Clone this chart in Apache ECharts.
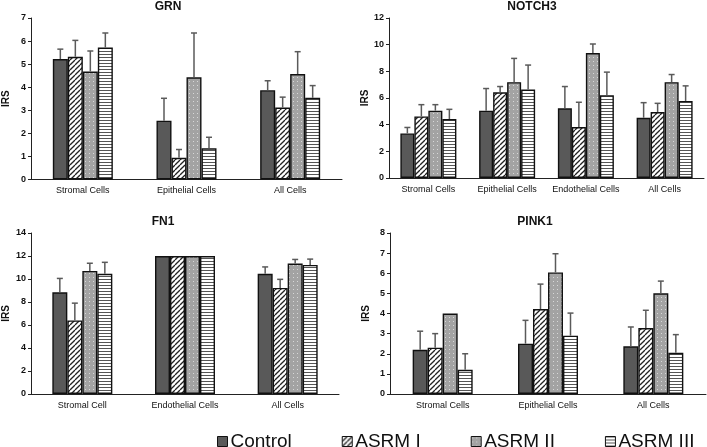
<!DOCTYPE html>
<html><head><meta charset="utf-8">
<script src="https://cdn.jsdelivr.net/npm/echarts@6/dist/echarts.min.js"></script>
<style>html,body{margin:0;padding:0;background:#fff}#c{width:707px;height:447px}</style>
</head><body><div id="c"></div>
<script>
// ---- data ----
const groups = ['Control', 'ASRM I', 'ASRM II', 'ASRM III'];

const grnCats = ['Stromal Cells', 'Epithelial Cells', 'All Cells'];
const grnMean = [[5.22, 2.55, 3.87], [5.32, 0.94, 3.12], [4.68, 4.43, 4.57], [5.72, 1.35, 3.54]];
const grnErr  = [[0.43, 0.97, 0.41], [0.71, 0.36, 0.45], [0.89, 1.92, 0.97], [0.63, 0.48, 0.53]];
const grnTicks = [0, 7, 1];

const notchCats = ['Stromal Cells', 'Epithelial Cells', 'Endothelial Cells', 'All Cells'];
const notchMean = [[3.34, 5.05, 5.23, 4.52], [4.62, 6.43, 3.82, 4.95], [5.05, 7.19, 9.37, 7.19], [4.42, 6.63, 6.21, 5.78]];
const notchErr  = [[0.45, 1.66, 1.63, 1.13], [0.88, 0.43, 1.86, 0.65], [0.45, 1.78, 0.68, 0.57], [0.73, 1.84, 1.73, 1.13]];
const notchTicks = [0, 12, 2];

const fn1Cats = ['Stromal Cell', 'Endothelial Cells', 'All Cells'];
const fn1Mean = [[8.84, 12, 10.45], [6.4, 12, 9.22], [10.7, 12, 11.35], [10.45, 12, 11.22]];
const fn1Err  = [[1.21, 0, 0.6], [1.5, 0, 0.75], [0.67, 0, 0.35], [1.0, 0, 0.51]];
const fn1Ticks = [0, 14, 2];

const pinkCats = ['Stromal Cells', 'Epithelial Cells', 'All Cells'];
const pinkMean = [[2.2, 2.5, 2.37], [2.3, 4.22, 3.28], [4.0, 6.04, 5.0], [1.2, 2.9, 2.05]];
const pinkErr  = [[0.92, 1.16, 0.96], [0.7, 1.24, 0.88], [0, 0.93, 0.61], [0.8, 1.12, 0.9]];
const pinkTicks = [0, 8, 1];

// ---- patterns ----
function tile(w, h, draw) {
  const c = document.createElement('canvas'); c.width = w; c.height = h;
  const g = c.getContext('2d'); draw(g, w, h); return c;
}
const diagTile = tile(5, 5, (g, w, h) => {
  g.fillStyle = '#fff'; g.fillRect(0, 0, w, h);
  g.strokeStyle = '#222'; g.lineWidth = 1.3;
  for (let k = -1; k <= 1; k++) { g.beginPath(); g.moveTo(k * w, h); g.lineTo(k * w + w, 0); g.stroke(); }
});
const dotTile = tile(4, 4, (g, w, h) => {
  g.fillStyle = '#a3a3a3'; g.fillRect(0, 0, w, h);
  g.fillStyle = '#d8d8d8'; g.fillRect(1, 1, 1, 1);
});
const horizTile = tile(2, 3, (g, w, h) => {
  g.fillStyle = '#fff'; g.fillRect(0, 0, w, h);
  g.fillStyle = '#555'; g.fillRect(0, 0, w, 1);
});
const fills = [
  '#595959',
  { image: diagTile, repeat: 'repeat' },
  { image: dotTile, repeat: 'repeat' },
  { image: horizTile, repeat: 'repeat' }
];

// ---- panels ----
const FONT = 'Liberation Sans, Arial, sans-serif';
const panels = [
  { title: 'GRN', tx: 168, ty: 7, cats: grnCats, mean: grnMean, err: grnErr, ticks: grnTicks, grid: { left: 28, top: 18, width: 314, height: 161.5 }, bw: 15, nameGap: 20 },
  { title: 'NOTCH3', tx: 532, ty: 7, cats: notchCats, mean: notchMean, err: notchErr, ticks: notchTicks, grid: { left: 389, top: 18, width: 315, height: 160 }, bw: 14, nameGap: 18 },
  { title: 'FN1', tx: 163, ty: 222, cats: fn1Cats, mean: fn1Mean, err: fn1Err, ticks: fn1Ticks, grid: { left: 28, top: 233, width: 311, height: 161 }, bw: 15, nameGap: 20 },
  { title: 'PINK1', tx: 535, ty: 222, cats: pinkCats, mean: pinkMean, err: pinkErr, ticks: pinkTicks, grid: { left: 390, top: 233, width: 316, height: 161 }, bw: 15, nameGap: 19 }
];

const grids = [], xAxes = [], yAxes = [], series = [], graphics = [];
panels.forEach((p, pi) => {
  grids.push(Object.assign({ containLabel: false }, p.grid));
  xAxes.push({
    type: 'category', gridIndex: pi, data: p.cats,
    axisLine: { lineStyle: { color: '#222', width: 1 } },
    axisTick: { show: false },
    axisLabel: { interval: 0, fontSize: 9, color: '#111', fontFamily: FONT, margin: 7 }
  });
  yAxes.push({
    type: 'value', gridIndex: pi, min: p.ticks[0], max: p.ticks[1], interval: p.ticks[2],
    name: 'IRS', nameLocation: 'middle', nameRotate: 90, nameGap: p.nameGap,
    nameTextStyle: { fontSize: 10, fontWeight: 'bold', color: '#111', fontFamily: FONT },
    axisLine: { show: true, lineStyle: { color: '#222', width: 1 } },
    axisTick: { show: true, length: 3, lineStyle: { color: '#222' } },
    splitLine: { show: false },
    axisLabel: { fontSize: 9, fontWeight: 'bold', color: '#111', fontFamily: FONT, margin: 5 }
  });
  graphics.push({
    type: 'text', x: p.tx, y: p.ty,
    style: { text: p.title, fontSize: 12, fontWeight: 'bold', fontFamily: FONT, fill: '#111', textAlign: 'center', textVerticalAlign: 'middle' }
  });
  groups.forEach((gname, gi) => {
    series.push({
      type: 'bar', name: gname, xAxisIndex: pi, yAxisIndex: pi,
      data: p.mean[gi], barWidth: p.bw, barGap: '0%',
      itemStyle: { color: fills[gi], borderColor: '#111', borderWidth: 1.4 },
      emphasis: { disabled: true }, silent: true, z: 2
    });
  });
  groups.forEach((gname, gi) => {
    const off = (gi - 1.5) * p.bw;
    series.push({
      type: 'custom', name: gname + ' err', xAxisIndex: pi, yAxisIndex: pi, z: 3, silent: true,
      data: p.mean[gi].map((v, ci) => [ci, v, p.err[gi][ci]]),
      renderItem: (params, api) => {
        const e = api.value(2);
        if (!(e > 0)) return null;
        const c = api.value(0), v = api.value(1);
        const a = api.coord([c, v]), b = api.coord([c, v + e]);
        const x = a[0] + off;
        const st = { stroke: '#5a5a5a', lineWidth: 1.5 };
        return { type: 'group', children: [
          { type: 'line', shape: { x1: x, y1: a[1], x2: x, y2: b[1] }, style: st },
          { type: 'line', shape: { x1: x - 3, y1: b[1], x2: x + 3, y2: b[1] }, style: st }
        ] };
      }
    });
  });
});

const chart = echarts.init(document.getElementById('c'), null, { renderer: 'canvas' });
chart.setOption({
  animation: false,
  backgroundColor: '#fff',
  grid: grids, xAxis: xAxes, yAxis: yAxes, series: series,
  graphic: graphics,
  legend: {
    data: groups, left: 212, top: 427, icon: 'rect', itemWidth: 10, itemHeight: 10, itemGap: 50,
    itemStyle: { borderColor: '#111', borderWidth: 1 },
    textStyle: { fontSize: 19, color: '#111', fontFamily: FONT, padding: [0, 0, 0, -2] },
    selectedMode: false
  }
});
</script></body></html>
